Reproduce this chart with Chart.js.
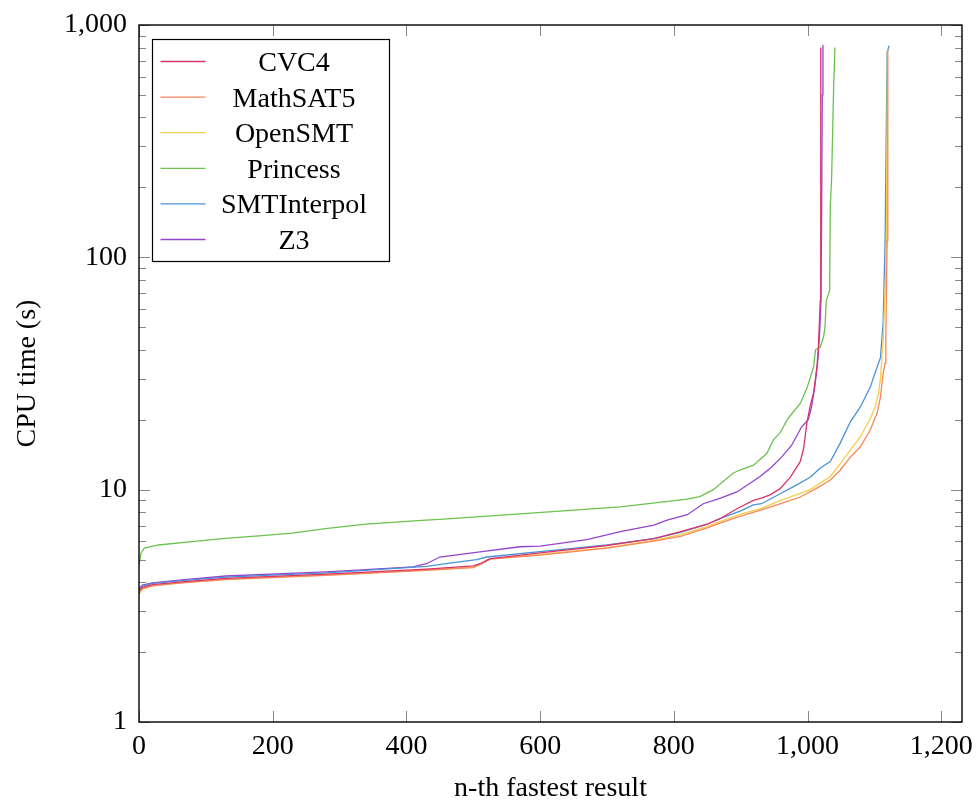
<!DOCTYPE html>
<html>
<head>
<meta charset="utf-8">
<script src="https://cdn.jsdelivr.net/npm/chart.js@4.4.1/dist/chart.umd.min.js"></script>
<style>
  html, body { margin: 0; padding: 0; background: #fff; }
  #chart { display: block; }
</style>
</head>
<body>
<canvas id="chart" width="979" height="807"></canvas>
<script>
// [n-th fastest result, CPU time in s]
const cvc4 = [[0,3.68],[5,3.8],[20,3.9],[60,4.0],[130,4.15],[280,4.33],[430,4.55],[500,4.7],[510,4.8],[525,5.05],[600,5.35],[700,5.75],[770,6.15],[810,6.6],[850,7.1],[869,7.5],[895,8.3],[919,9.0],[931,9.2],[944,9.5],[959,10.1],[974,11.3],[989,13.2],[994,15],[999,19.4],[1004,23],[1009,26],[1014,33.8],[1016,40],[1019,65],[1019.5,300],[1020,800]];
const mathsat5 = [[0,3.6],[5,3.75],[20,3.85],[60,3.96],[130,4.1],[280,4.28],[430,4.5],[500,4.62],[510,4.75],[525,5.02],[600,5.23],[700,5.6],[770,6.0],[810,6.3],[850,6.85],[870,7.2],[900,7.7],[931,8.18],[960,8.7],[989,9.3],[1014,10.15],[1034,11.0],[1049,12.15],[1064,13.8],[1079,15.3],[1094,18.1],[1101,20.4],[1104,21.3],[1109,25],[1113,31.7],[1116,35],[1117,44],[1119,118],[1120,780]];
const opensmt = [[0,3.55],[5,3.72],[20,3.85],[60,3.97],[130,4.12],[280,4.3],[430,4.52],[500,4.64],[510,4.78],[525,5.04],[600,5.26],[700,5.63],[770,6.05],[810,6.4],[850,6.95],[870,7.3],[900,7.85],[931,8.3],[960,9.0],[1004,10.0],[1034,11.4],[1049,12.95],[1064,14.8],[1079,16.9],[1094,20.3],[1101,22.7],[1106,25.9],[1109,30],[1113,44],[1116,72],[1118,118],[1119.5,780]];
const princess = [[0,4.74],[3,5.33],[8,5.6],[29,5.78],[79,5.97],[129,6.17],[179,6.32],[229,6.5],[279,6.8],[339,7.1],[429,7.4],[450,7.45],[570,7.87],[720,8.44],[820,9.1],[839,9.33],[859,10],[889,11.8],[899,12.15],[919,12.75],[939,14.3],[949,16.4],[959,17.6],[971,20.3],[989,23.5],[999,27.3],[1004,30.3],[1009,33.8],[1012,40],[1019,41],[1024,45.5],[1026,50],[1028,65],[1033,72],[1034,166],[1036,220],[1039,540],[1041,800]];
const smtinterpol = [[0,3.7],[5,3.85],[20,3.95],[60,4.05],[130,4.2],[280,4.38],[430,4.68],[470,4.85],[505,5.0],[520,5.13],[600,5.41],[700,5.78],[770,6.15],[810,6.55],[850,7.1],[869,7.5],[900,8.1],[919,8.6],[931,8.7],[959,9.6],[979,10.3],[1004,11.3],[1019,12.4],[1034,13.2],[1049,15.9],[1064,19.6],[1079,22.7],[1094,27.7],[1099,30.6],[1109,37],[1113,52],[1116,118],[1119,760],[1122,815]];
const z3 = [[0,3.75],[5,3.88],[20,3.97],[60,4.08],[130,4.25],[280,4.43],[410,4.65],[430,4.8],[450,5.13],[510,5.4],[570,5.68],[600,5.72],[670,6.1],[720,6.6],[770,7.04],[790,7.4],[820,7.8],[844,8.7],[870,9.2],[895,9.8],[929,11.4],[946,12.5],[961,13.8],[976,15.5],[991,18.6],[1001,20],[1006,22.7],[1011,28],[1015,35],[1018,47],[1020,65],[1021,150],[1022,500],[1023,820]];

const solverNames = ["CVC4", "MathSAT5", "OpenSMT", "Princess", "SMTInterpol", "Z3"];
const solverSeries = [cvc4, mathsat5, opensmt, princess, smtinterpol, z3];
const solverColors = ["#d9336f", "#f7875a", "#f2cf4c", "#6cc24f", "#4a92d6", "#9444cc"];

const xTicks = [0, 200, 400, 600, 800, 1000, 1200];
const yTicks = [1, 10, 100, 1000];
const yMinorFactors = [2, 3, 4, 5, 6, 7, 8, 9];

const FONT = "'Liberation Serif', 'Times New Roman', serif";
const TICK_GRAY = "#888";

function fmt(v) {
  return Number(v).toLocaleString("en-US");
}

// pgfplots-like frame with inward ticks on all four sides
const framePlugin = {
  id: "frame",
  afterDatasetsDraw(chart) {
    const { ctx, chartArea: a, scales } = chart;
    const xs = scales.x;
    const ys = scales.y;
    ctx.save();
    ctx.strokeStyle = TICK_GRAY;
    ctx.lineWidth = 1;
    ctx.beginPath();
    for (const v of xTicks) {
      const px = Math.round(xs.getPixelForValue(v)) + 0.5;
      ctx.moveTo(px, a.bottom); ctx.lineTo(px, a.bottom - 11);
      ctx.moveTo(px, a.top); ctx.lineTo(px, a.top + 11);
    }
    for (let i = 0; i < yTicks.length; i++) {
      const py = Math.round(ys.getPixelForValue(yTicks[i])) + 0.5;
      ctx.moveTo(a.left, py); ctx.lineTo(a.left + 11, py);
      ctx.moveTo(a.right, py); ctx.lineTo(a.right - 11, py);
      if (i === yTicks.length - 1) continue;
      for (const f of yMinorFactors) {
        const pm = Math.round(ys.getPixelForValue(yTicks[i] * f)) + 0.5;
        ctx.moveTo(a.left, pm); ctx.lineTo(a.left + 7, pm);
        ctx.moveTo(a.right, pm); ctx.lineTo(a.right - 7, pm);
      }
    }
    ctx.stroke();
    ctx.strokeStyle = "#000";
    ctx.lineWidth = 1.4;
    ctx.strokeRect(a.left, a.top, a.right - a.left, a.bottom - a.top);
    ctx.restore();
  },
};

// legend box in the upper left of the plot
const legendPlugin = {
  id: "boxLegend",
  afterDraw(chart) {
    const { ctx, chartArea: a } = chart;
    const left = a.left + 13, top = a.top + 14, w = 237, h = 222;
    ctx.save();
    ctx.fillStyle = "#fff";
    ctx.fillRect(left, top, w, h);
    ctx.strokeStyle = "#000";
    ctx.lineWidth = 1.2;
    ctx.strokeRect(left + 0.5, top + 0.5, w, h);
    ctx.font = "28px " + FONT;
    ctx.textAlign = "center";
    ctx.textBaseline = "alphabetic";
    chart.data.datasets.forEach((ds, i) => {
      const y = top + 22.5 + i * 35.6;
      ctx.strokeStyle = ds.borderColor;
      ctx.lineWidth = 1.3;
      ctx.beginPath();
      ctx.moveTo(left + 8.5, y);
      ctx.lineTo(left + 53.5, y);
      ctx.stroke();
      ctx.fillStyle = "#000";
      ctx.fillText(ds.label, left + 142, y + 9.5);
    });
    ctx.restore();
  },
};

new Chart(document.getElementById("chart"), {
  type: "line",
  data: {
    datasets: solverNames.map((name, i) => ({
      label: name,
      data: solverSeries[i].map(([n, t]) => ({ x: n, y: t })),
      borderColor: solverColors[i],
      backgroundColor: solverColors[i],
      borderWidth: 1.3,
      pointRadius: 0,
      tension: 0,
      fill: false,
    })),
  },
  options: {
    responsive: false,
    animation: false,
    layout: { padding: { left: 0, right: 17, top: 25, bottom: 0 } },
    plugins: { legend: { display: false }, tooltip: { enabled: false } },
    scales: {
      x: {
        type: "linear",
        min: 0,
        max: 1231,
        afterBuildTicks: (s) => { s.ticks = xTicks.map((v) => ({ value: v })); },
        afterFit: (s) => { s.height = 85; s.paddingLeft = 0; s.paddingRight = 0; },
        grid: { display: false, drawTicks: false },
        border: { display: false },
        ticks: {
          callback: fmt,
          color: "#000",
          font: { family: FONT, size: 28 },
          padding: 8,
          maxRotation: 0,
          autoSkip: false,
        },
        title: {
          display: true,
          text: "n-th fastest result",
          color: "#000",
          font: { family: FONT, size: 28 },
          padding: { top: 0, bottom: 2 },
        },
      },
      y: {
        type: "logarithmic",
        min: 1,
        max: 1000,
        afterBuildTicks: (s) => { s.ticks = yTicks.map((v) => ({ value: v })); },
        afterFit: (s) => { s.width = 139; s.paddingTop = 0; s.paddingBottom = 0; },
        grid: { display: false, drawTicks: false },
        border: { display: false },
        ticks: {
          callback: fmt,
          color: "#000",
          font: { family: FONT, size: 28 },
          padding: 12,
          autoSkip: false,
        },
        title: {
          display: true,
          text: "CPU time (s)",
          color: "#000",
          font: { family: FONT, size: 28 },
          padding: { top: 11, bottom: 0 },
        },
      },
    },
  },
  plugins: [framePlugin, legendPlugin],
});
</script>
</body>
</html>
